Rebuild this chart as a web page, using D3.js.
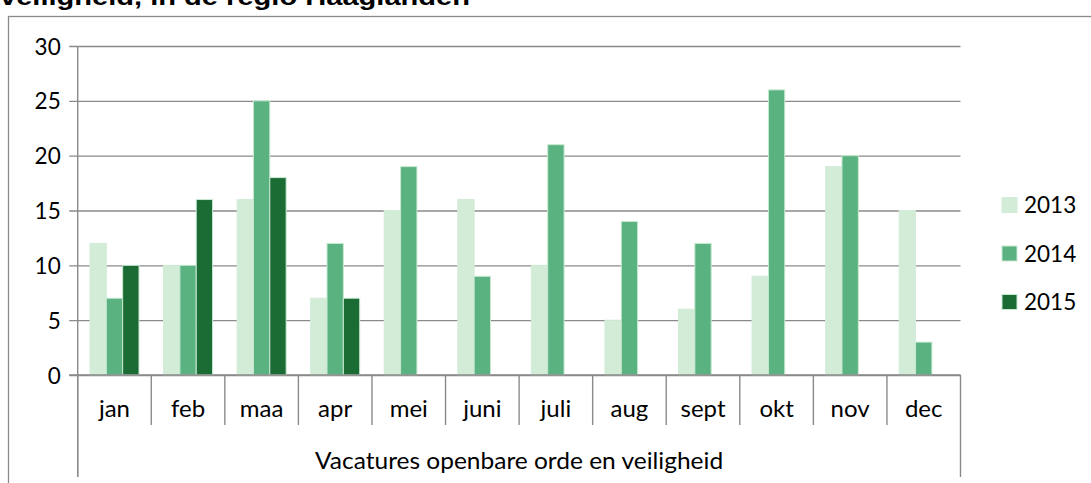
<!DOCTYPE html>
<html>
<head>
<meta charset="utf-8">
<script src="https://cdn.jsdelivr.net/npm/d3@7"></script>
<style>
	body { margin: 0; background: #fff; }
	svg text { font-family: Lato, "Open Sans", sans-serif; fill: #000; }
</style>
</head>
<body>
<svg id="svgChart" width="1091" height="483"></svg>
<script>
var months = ["jan","feb","maa","apr","mei","juni","juli","aug","sept","okt","nov","dec"];
var years = ["2013","2014","2015"];
var values2013 = [12,10,16,7,15,16,10,5,6,9,19,15];
var values2014 = [7,10,25,12,19,9,21,14,12,26,20,3];
var values2015 = [10,16,18,7,null,null,null,null,null,null,null,null];
var yTicks = [0,5,10,15,20,25,30];
var groupLabel = "Vacatures openbare orde en veiligheid";
var titleText = "veiligheid, in de regio Haaglanden";

var colors = {
	"2013": "#d2ecd8",
	"2014": "#59b27f",
	"2015": "#1b6b35",
	stroke: "#c9e9d2",
	axis: "#8a8a8a"
};

class VacatureChart{
	/*
		Clustered column chart, one group per month, three years per group.
	*/
	constructor(svgId){
		this.svg = d3.select(svgId);
		this.left = 77.7;
		this.right = 960.5;
		this.top = 46;
		this.bottom = 375;

		this.x0 = d3.scaleBand()
				.domain(months)
				.range([this.left, this.right]);
		this.x1 = d3.scaleBand()
				.domain(years)
				.range([0, this.x0.bandwidth()])
				.paddingOuter(0.75);
		this.y = d3.scaleLinear()
				.domain([0,30])
				.range([this.bottom, this.top]);

		this.data = months.map(function(m, i){
			return {month: m, vals: [
				{year: "2013", v: values2013[i]},
				{year: "2014", v: values2014[i]},
				{year: "2015", v: values2015[i]}
			]};
		});

		this._drawFrame();
		this._drawGrid();
		this._drawBars();
		this._drawXAxis();
		this._drawLegend();
	}
	_drawFrame(){
		// title is cut off at the top of the picture, only its last line shows
		this.svg.append("text")
			.attr("x", 0)
			.attr("y", 5)
			.attr("textLength", 470)
			.attr("lengthAdjust", "spacingAndGlyphs")
			.style("font-family", "'Liberation Sans', Arial, sans-serif")
			.style("font-weight", "bold")
			.style("font-size", "24px")
			.text(titleText);
		this.svg.append("rect")
			.attr("x", 8.5)
			.attr("y", 16.5)
			.attr("width", 1200)
			.attr("height", 600)
			.attr("fill", "none")
			.attr("stroke", colors.axis)
			.attr("stroke-width", 1.3);
	}
	_drawGrid(){
		var that = this;
		var yAxis = d3.axisLeft(this.y)
				.tickValues(yTicks)
				.tickSize(-(this.right - this.left))
				.tickPadding(17)
				.tickSizeOuter(0);
		var g = this.svg.append("g")
				.attr("transform", "translate(" + this.left + ",0)")
				.call(yAxis);
		g.select(".domain").remove();
		g.selectAll(".tick line")
			.attr("x1", -8.5)
			.attr("stroke", colors.axis)
			.attr("stroke-width", 1.4);
		g.selectAll(".tick text")
			.style("font-size", "22.5px")
			.attr("dy", "0.36em");

		// y axis line, down through the category label boxes
		this.svg.append("line")
			.attr("x1", this.left).attr("x2", this.left)
			.attr("y1", this.top).attr("y2", 477)
			.attr("stroke", colors.axis)
			.attr("stroke-width", 1.4);
	}
	_drawBars(){
		var that = this;
		var groups = this.svg.selectAll(".month")
			.data(this.data)
			.enter()
			.append("g")
			.attr("class", "month")
			.attr("transform", function(d){ return "translate(" + that.x0(d.month) + ",0)"; });
		groups.selectAll("rect")
			.data(function(d){ return d.vals.filter(function(e){ return e.v != null; }); })
			.enter()
			.append("rect")
			.attr("x", function(d){ return that.x1(d.year); })
			.attr("width", this.x1.bandwidth())
			.attr("y", function(d){ return that.y(d.v); })
			.attr("height", function(d){ return that.bottom - that.y(d.v); })
			.attr("fill", function(d){ return colors[d.year]; })
			.attr("stroke", function(d){ return d.year == "2013" ? colors["2013"] : colors.stroke; })
			.attr("stroke-width", 1);
	}
	_drawXAxis(){
		var that = this;
		var edges = months.map(function(m){ return that.x0(m); }).concat([this.right]);

		this.svg.append("line")
			.attr("x1", this.left - 8.5).attr("x2", this.right)
			.attr("y1", this.bottom).attr("y2", this.bottom)
			.attr("stroke", colors.axis)
			.attr("stroke-width", 1.6);

		this.svg.selectAll(".sep")
			.data(edges)
			.enter()
			.append("line")
			.attr("class", "sep")
			.attr("x1", function(d){ return d; })
			.attr("x2", function(d){ return d; })
			.attr("y1", this.bottom)
			.attr("y2", function(d, i){ return (i == 0 || i == edges.length - 1) ? 477 : 425; })
			.attr("stroke", colors.axis)
			.attr("stroke-width", 1.4);

		this.svg.selectAll(".mlabel")
			.data(months)
			.enter()
			.append("text")
			.attr("class", "mlabel")
			.attr("x", function(d){ return that.x0(d) + that.x0.bandwidth()/2; })
			.attr("y", 417)
			.attr("text-anchor", "middle")
			.style("font-size", "24px")
			.text(function(d){ return d; });

		this.svg.append("text")
			.attr("x", (this.left + this.right)/2)
			.attr("y", 469)
			.attr("text-anchor", "middle")
			.attr("textLength", 408)
			.attr("lengthAdjust", "spacingAndGlyphs")
			.style("font-size", "23px")
			.text(groupLabel);
	}
	_drawLegend(){
		var items = this.svg.selectAll(".legend")
			.data(years)
			.enter()
			.append("g")
			.attr("class", "legend")
			.attr("transform", function(d, i){ return "translate(1002," + (197.5 + i*48.5) + ")"; });
		items.append("rect")
			.attr("width", 15)
			.attr("height", 15)
			.attr("fill", function(d){ return colors[d]; })
			.attr("stroke", function(d){ return d == "2013" ? colors["2013"] : colors.stroke; })
			.attr("stroke-width", 1);
		items.append("text")
			.attr("x", 22)
			.attr("y", 15.5)
			.style("font-size", "22.5px")
			.text(function(d){ return d; });
	}
}

var chart = new VacatureChart("#svgChart");
</script>
</body>
</html>
